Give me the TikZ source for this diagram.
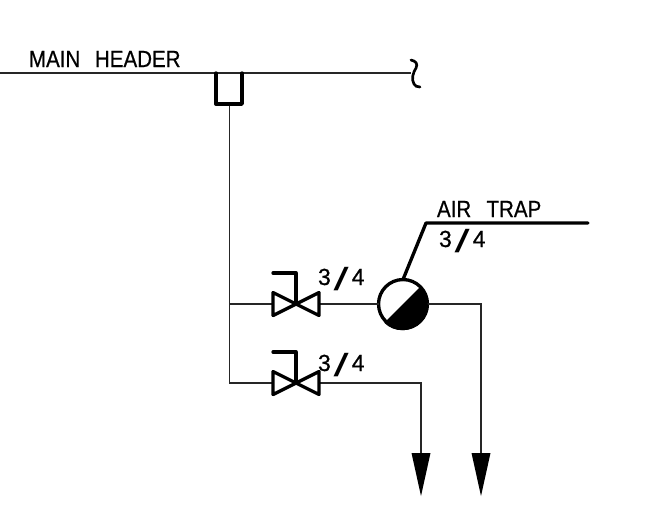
\documentclass[tikz,border=0pt]{standalone}
\usepackage{fontspec}
\setmainfont[FakeBold=0.6,FakeStretch=0.88]{Liberation Sans}
\newfontfamily\slashfont{Liberation Sans}
\usetikzlibrary{calc}
\newcommand{\tfr}{\scalebox{1.12}[1]{3}\hspace{2.2pt}\raisebox{-3.8pt}{\slashfont\fontsize{24}{24}\selectfont\scalebox{1.7}[1]{/}}\hspace{2.2pt}\scalebox{1.12}[1]{4}}
\tikzset{
  x=0.75pt,y=-0.75pt,
  pipe/.style={line width=1pt,draw=black!85},
  heavy/.style={line width=2.5pt,draw=black,line cap=round,line join=round},
  lbl/.style={anchor=base west,inner sep=0pt,outer sep=0pt,font=\fontsize{17.5}{20}\selectfont},
  trapsym/.style={circle,draw=black,line width=2.5pt,minimum size=36.7pt,inner sep=0pt,outer sep=0pt,fill=white},
  tip/.style={fill=black,draw=none}
}
\begin{document}
\begin{tikzpicture}
\useasboundingbox (0,0) rectangle (645,519);
% coordinates
\coordinate (hL) at (0,73);
\coordinate (hR) at (411,73);
\coordinate (cupTL) at (216,73);
\coordinate (cupBL) at (216,104);
\coordinate (cupBR) at (242,104);
\coordinate (cupTR) at (242,73);
\coordinate (cupS) at (229.5,104);
\coordinate (j1) at (229.5,304);
\coordinate (j2) at (229.5,383);
\coordinate (v1) at (296,304);
\coordinate (v2) at (296,383);
\coordinate (v1L) at (273,304);
\coordinate (v1R) at (319,304);
\coordinate (v2L) at (273,383);
\coordinate (v2R) at (319,383);
\coordinate (c1) at (481,304);
\coordinate (a1) at (481,453);
\coordinate (c2) at (421,383);
\coordinate (a2) at (421,453);
\coordinate (leadK) at (426,223);
\coordinate (leadE) at (588,223);
% texts
\node[lbl] (mainh) at (29,67) {MAIN\hspace{11pt}HEADER};
\node[lbl] (airt) at (437,217) {AIR\hspace{11.5pt}TRAP};
\node[lbl] (s0) at (439,247) {\tfr};
\node[lbl] (s1) at (318,285) {\tfr};
\node[lbl] (s2) at (318,371) {\tfr};
% pipes
\draw[pipe] (hL) -- (hR);
\draw[pipe] (cupS) -- (j1) -- (j2) -- (v2L);
\draw[pipe] (j1) -- (v1L);
\node[trapsym] (trap) at (403,304) {};
\draw[pipe] (v1R) -- (trap.west);
\draw[pipe] (trap.east) -- (c1) -- (a1);
\draw[pipe] (v2R) -- (c2) -- (a2);
% wave
\draw[line width=2pt,line cap=round] (411,60) .. controls (416,61) and (418,64) .. (416,68) .. controls (413,73) and (411,79) .. (414,84) .. controls (415,86) and (417,87) .. (420,87);
% cup
\draw[heavy] (cupTL) -- (cupBL) -- (cupBR) -- (cupTR);
% valves
\foreach \v in {1,2}{
  \draw[heavy] (v\v L) ++(0,-11.5) -- ++(0,23) -- ++(46,-23) -- ++(0,23) -- ++(-46,-23) -- cycle;
  \draw[heavy] (v\v) -- ++(0,-31) -- ++(-23,0);
}
% trap fill
\fill (trap.45) arc[start angle=-45,end angle=135,radius=25.5] -- cycle;
\draw[heavy] (trap.north) -- (leadK) -- (leadE);
% arrows
\foreach \a in {a1,a2}{
  \fill[tip] (\a) ++(-9.5,0) -- ++(19,0) -- ++(-9.5,43) -- cycle;
}
\end{tikzpicture}
\end{document}
